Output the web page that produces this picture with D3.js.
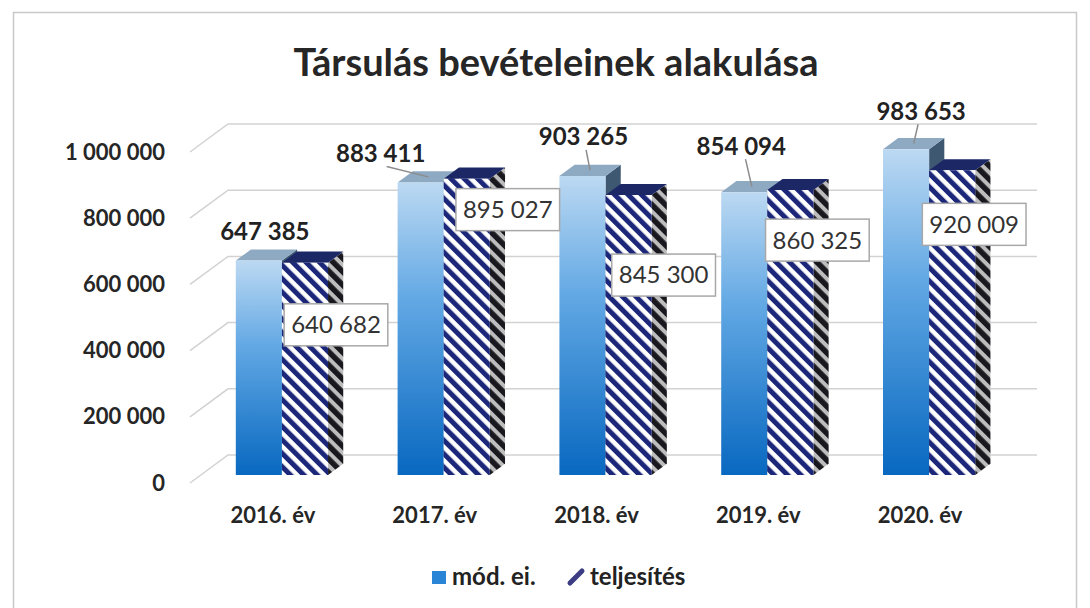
<!DOCTYPE html>
<html>
<head>
<meta charset="utf-8">
<script src="https://cdn.jsdelivr.net/npm/d3@7"></script>
<style>
  body { margin: 0; background: #fff; }
  text { font-family: Lato, 'Open Sans', sans-serif; }
</style>
</head>
<body>
<script>
// data
const categories = ['2016. év', '2017. év', '2018. év', '2019. év', '2020. év'];
const seriesNames = ['mód. ei.', 'teljesítés'];
const modEi = [647385, 883411, 903265, 854094, 983653];
const teljesites = [640682, 895027, 845300, 860325, 920009];
const yTicks = [0, 200000, 400000, 600000, 800000, 1000000];

// where the labels were dragged to in the original (pixels from the bar top)
const modLabelShift = [[6, -29], [-40, -29], [1, -39], [-3, -46], [15, -38]];
const telLabelShift = [[31, 62], [41, 31], [35, 80], [27, 50], [22, 54]];

const width = 1090, height = 608;
const svg = d3.select('body').append('svg').attr('width', width).attr('height', height);

const hu = d3.formatLocale({ decimal: ',', thousands: ' ', grouping: [3], currency: ['', ' Ft'] });
const fmt = hu.format(',');

// frame
svg.append('rect').attr('x', 13.5).attr('y', 12.5).attr('width', 1063).attr('height', 620)
  .attr('fill', '#fff').attr('stroke', '#c8c8c8').attr('stroke-width', 1.5);

// 3d-ish projection: front plane + depth offset
const depth = { dx: 38, dy: -28 };
const zFront = 0.29, zBack = 0.69;
const p = (x, y, z) => [x + z * depth.dx, y + z * depth.dy];

const y = d3.scaleLinear([0, 1000000], [483, 152]);
const x = d3.scaleBand(categories, [190, 999]).paddingInner(0.43).paddingOuter(0.215);
const xs = d3.scaleBand(seriesNames, [0, x.bandwidth()]);

// defs
const defs = svg.append('defs');
const grad = defs.append('linearGradient').attr('id', 'blueFront')
  .attr('x1', 0).attr('y1', 0).attr('x2', 0).attr('y2', 1);
grad.append('stop').attr('offset', '0%').attr('stop-color', '#bcd9f2');
grad.append('stop').attr('offset', '40%').attr('stop-color', '#62a8e4');
grad.append('stop').attr('offset', '100%').attr('stop-color', '#0868c0');

const hatch = defs.append('pattern').attr('id', 'hatch').attr('patternUnits', 'userSpaceOnUse')
  .attr('width', 9.5).attr('height', 9.5).attr('patternTransform', 'rotate(-45)');
hatch.append('rect').attr('width', 9.5).attr('height', 9.5).attr('fill', '#fff');
hatch.append('rect').attr('width', 5).attr('height', 9.5).attr('fill', '#1c277a');

const hatchSide = defs.append('pattern').attr('id', 'hatchSide').attr('patternUnits', 'userSpaceOnUse')
  .attr('width', 9.5).attr('height', 9.5).attr('patternTransform', 'rotate(-45)');
hatchSide.append('rect').attr('width', 9.5).attr('height', 9.5).attr('fill', '#bdbdbd');
hatchSide.append('rect').attr('width', 5.5).attr('height', 9.5).attr('fill', '#18181e');

// gridlines (side wall + back wall)
const grid = svg.append('g');
yTicks.forEach(t => {
  const a = p(190, y(t), 0), b = p(190, y(t), 1), c = p(999, y(t), 1);
  grid.append('polyline').attr('points', [a, b, c].map(d => d.join(',')).join(' '))
    .attr('fill', 'none').attr('stroke', '#d2d2d2').attr('stroke-width', 1.5);
});

// y axis labels
const yAxis = svg.append('g').attr('transform', 'translate(168,0)')
  .call(d3.axisLeft(y).tickValues(yTicks).tickSize(0).tickPadding(3).tickFormat(fmt));
yAxis.select('.domain').remove();
yAxis.selectAll('text').attr('font-size', 22).attr('font-weight', 700).attr('fill', '#262626')
  .style('font-family', 'Lato, sans-serif');

// x axis labels
const xAxis = svg.append('g').attr('transform', 'translate(2,507)')
  .call(d3.axisBottom(x).tickSize(0).tickPadding(0));
xAxis.select('.domain').remove();
xAxis.selectAll('text').attr('font-size', 22).attr('font-weight', 700).attr('fill', '#262626')
  .style('font-family', 'Lato, sans-serif');

// bars
const faces = {
  'mód. ei.': { front: 'url(#blueFront)', top: '#8ea9c2', side: '#3f5872' },
  'teljesítés': { front: 'url(#hatch)', top: '#1c2866', side: 'url(#hatchSide)' }
};
const values = { 'mód. ei.': modEi, 'teljesítés': teljesites };
const bars = svg.append('g');
const poly = pts => pts.map(d => d.join(',')).join(' ');

categories.forEach((c, i) => {
  seriesNames.forEach(s => {
    const v = values[s][i];
    const x0 = x(c) + xs(s), x1 = x0 + xs.bandwidth();
    const yt = y(v), yb = y(0);
    const f = faces[s];
    bars.append('polygon')
      .attr('points', poly([p(x1, yt, zFront), p(x1, yt, zBack), p(x1, yb, zBack), p(x1, yb, zFront)]))
      .attr('fill', f.side);
    bars.append('polygon')
      .attr('points', poly([p(x0, yt, zFront), p(x1, yt, zFront), p(x1, yt, zBack), p(x0, yt, zBack)]))
      .attr('fill', f.top);
    bars.append('polygon')
      .attr('points', poly([p(x0, yt, zFront), p(x1, yt, zFront), p(x1, yb, zFront), p(x0, yb, zFront)]))
      .attr('fill', f.front);
  });
});

// labels for mód. ei. (bold, with leader lines)
const labels = svg.append('g');
categories.forEach((c, i) => {
  const s = 'mód. ei.';
  const x0 = x(c) + xs(s);
  const [cx, cy] = p(x0 + xs.bandwidth() / 2, y(modEi[i]), zFront);
  const [tx, ty] = [cx + modLabelShift[i][0], cy + modLabelShift[i][1]];
  if (i > 0) {
    const [ax, ay] = p(x0 + xs.bandwidth() / 2, y(modEi[i]), (zFront + zBack) / 2);
    const sx = i === 1 ? tx + 6 : tx + (ax - tx) * 0.4;
    labels.append('line').attr('x1', sx).attr('y1', ty + 13)
      .attr('x2', ax).attr('y2', ay).attr('stroke', '#8c8c8c').attr('stroke-width', 1.5);
  }
  labels.append('text').attr('x', tx).attr('y', ty).attr('dy', '0.35em')
    .attr('text-anchor', 'middle').attr('font-size', 24).attr('font-weight', 700)
    .attr('fill', '#222').text(fmt(modEi[i]));
});

// labels for teljesítés (boxed)
categories.forEach((c, i) => {
  const s = 'teljesítés';
  const x0 = x(c) + xs(s);
  const [cx, cy] = p(x0 + xs.bandwidth() / 2, y(teljesites[i]), zFront);
  const [tx, ty] = [cx + telLabelShift[i][0], cy + telLabelShift[i][1]];
  const g = labels.append('g').attr('transform', `translate(${tx},${ty})`);
  const t = g.append('text').attr('dy', '0.35em').attr('text-anchor', 'middle')
    .attr('font-size', 24).attr('fill', '#333').text(fmt(teljesites[i]));
  const bb = t.node().getBBox();
  g.insert('rect', 'text').attr('x', bb.x - 7).attr('y', -21).attr('width', bb.width + 14).attr('height', 42)
    .attr('fill', '#fff').attr('stroke', '#a8a8a8').attr('stroke-width', 1.5);
});

// title
svg.append('text').attr('x', 556).attr('y', 76).attr('text-anchor', 'middle')
  .attr('font-size', 38).attr('font-weight', 700).attr('fill', '#262626').text('Társulás bevételeinek alakulása');

// legend
const legend = svg.append('g').attr('transform', 'translate(0,577)');
legend.append('rect').attr('x', 432).attr('y', -6).attr('width', 14).attr('height', 13).attr('fill', '#2a85d6');
legend.append('text').attr('x', 452).attr('dy', '0.35em').attr('font-size', 24).attr('font-weight', 700)
  .attr('fill', '#222').text(seriesNames[0]);
legend.append('line').attr('x1', 570).attr('y1', 6).attr('x2', 582).attr('y2', -6)
  .attr('stroke', '#3b3c82').attr('stroke-width', 5).attr('stroke-linecap', 'round');
legend.append('text').attr('x', 590).attr('dy', '0.35em').attr('font-size', 24).attr('font-weight', 700)
  .attr('fill', '#222').text(seriesNames[1]);
</script>
</body>
</html>
